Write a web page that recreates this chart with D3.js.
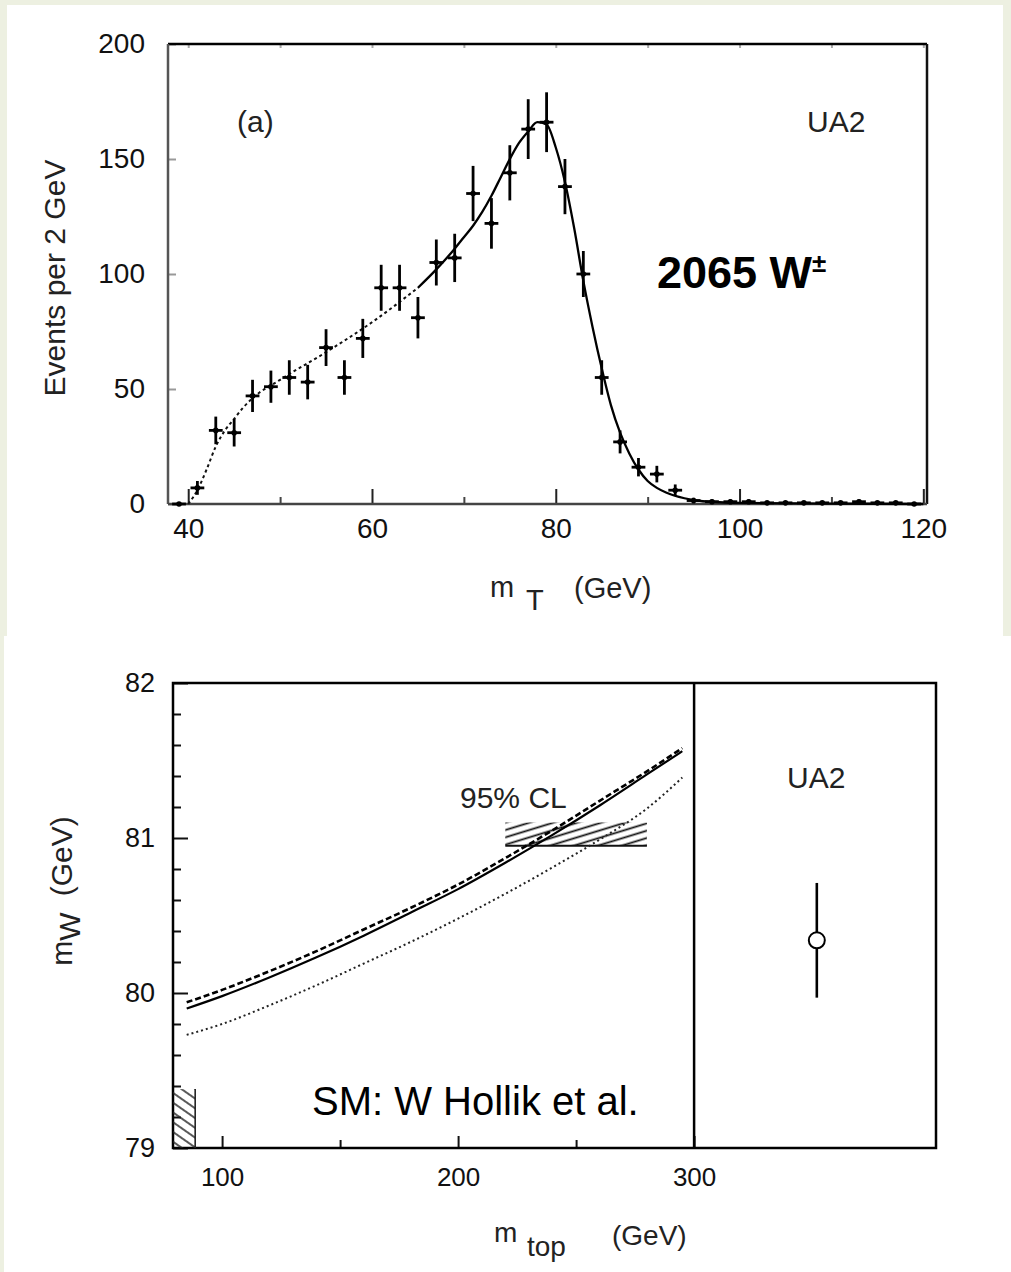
<!DOCTYPE html>
<html>
<head>
<meta charset="utf-8">
<script src="https://cdn.jsdelivr.net/npm/d3@7"></script>
<style>
body { margin: 0; background: #edf0e1; }
svg { display: block; font-family: "Liberation Sans", Arial, sans-serif; }
.tick text { fill: #111; }
</style>
</head>
<body>
<svg id="chart" width="1011" height="1272"></svg>
<script>
// ---- top panel: transverse mass spectrum ----
var mtBins = [39,41,43,45,47,49,51,53,55,57,59,61,63,65,67,69,71,73,75,77,79,81,83,85,87,89,91,93,95,97,99,101,103,105,107,109,111,113,115,117,119];
var events = [0,7,32,31,47,51,55,53,68,55,72,94,94,81,105,107,135,122,144,163,166,138,100,55,27,16,13,6,1.5,1,1,1,0.5,0.5,0.5,0.5,0.5,1,0.5,0.5,0];
var eventErr = [0,3,6,6,7,7,7.5,7.5,8,7.5,8.5,10,10,9,10,10.5,12,11,12,13,13,12,10,7.5,5,4,3.6,2.5,1.2,1,1,1,0.7,0.7,0.7,0.7,0.7,1,0.7,0.7,0];
var fitX = [40,41,42,43,44,45,46,47,50,55,60,65,67,69,70,71,72,73,74,75,76,77,78,79,80,81,82,83,84,85,86,87,88,89,90,91,92,94,96,100,110,120];
var fitY = [0,6,15,25,32,37,42,46,54,66,79,94,102,111,116,121,127,134,142,150,157,162,166,165,155,140,120,97,77,59,43,31,22,15,10,7,5,2.5,1.2,0.5,0.2,0];
var mtTicks = [40,60,80,100,120];
var mtMinor = [50,70,90,110];
var evTicks = [0,50,100,150,200];

// ---- bottom panel: mW vs mtop ----
var mtopGrid = [85,100,120,140,160,180,200,220,240,260,280,295];
var mwSolid  = [79.90,79.98,80.10,80.23,80.37,80.52,80.67,80.84,81.02,81.21,81.41,81.56];
var mwDashed = [79.94,80.02,80.14,80.27,80.41,80.55,80.70,80.87,81.05,81.24,81.43,81.58];
var mwDotted = [79.73,79.80,79.92,80.05,80.19,80.33,80.48,80.64,80.81,80.99,81.19,81.39];
var clBand = {mtop: [220, 280], mw: [80.95, 81.10]};
var lepBand = {mtop: [79.2, 88.6], mw: [79.0, 79.38]};
var ua2Point = {mtop: 352, mw: 80.34, err: 0.37};
var mtopTicks = [100,200,300];
var mtopMinor = [150,250];
var mwTicks = [79,80,81,82];
var mwMinor = [79.2,79.4,79.6,79.8,80.2,80.4,80.6,80.8,81.2,81.4,81.6,81.8];

var svg = d3.select("#chart");

// paper panels
svg.append("rect").attr("x", 7).attr("y", 5).attr("width", 996).attr("height", 631).attr("fill", "#fff");
svg.append("rect").attr("x", 4).attr("y", 636).attr("width", 1007).attr("height", 636).attr("fill", "#fff");

// ================= TOP =================
var x1 = d3.scaleLinear().domain([37.8, 120.4]).range([168, 927]);
var y1 = d3.scaleLinear().domain([0, 200]).range([504, 44]);

var topG = svg.append("g");

topG.append("g")
    .attr("transform", "translate(0,504)")
    .call(d3.axisBottom(x1).tickValues(mtTicks).tickSize(-15).tickPadding(14))
    .call(g => g.select(".domain").remove())
    .call(g => g.selectAll("line").attr("stroke", "#222").attr("stroke-width", 2))
    .call(g => g.selectAll("text").attr("font-size", 28).attr("font-family", "Liberation Sans, Arial"));
topG.append("g")
    .attr("transform", "translate(0,504)")
    .call(d3.axisBottom(x1).tickValues(mtMinor).tickSize(-7).tickFormat(""))
    .call(g => g.select(".domain").remove())
    .call(g => g.selectAll("line").attr("stroke", "#444").attr("stroke-width", 2));
topG.append("g")
    .attr("transform", "translate(0,44)")
    .call(d3.axisTop(x1).tickValues(mtTicks.concat(mtMinor)).tickSize(-4).tickFormat(""))
    .call(g => g.select(".domain").remove())
    .call(g => g.selectAll("line").attr("stroke", "#aaa").attr("stroke-width", 2));
topG.append("g")
    .attr("transform", "translate(168,0)")
    .call(d3.axisLeft(y1).tickValues(evTicks).tickSize(-8).tickPadding(23))
    .call(g => g.select(".domain").remove())
    .call(g => g.selectAll("line").attr("stroke", "#999").attr("stroke-width", 2))
    .call(g => g.selectAll("text").attr("font-size", 28).attr("font-family", "Liberation Sans, Arial"));

// frame
topG.append("line").attr("x1", 168).attr("x2", 927).attr("y1", 44).attr("y2", 44).attr("stroke", "#000").attr("stroke-width", 2.5);
topG.append("line").attr("x1", 927).attr("x2", 927).attr("y1", 44).attr("y2", 504).attr("stroke", "#111").attr("stroke-width", 2.5);
topG.append("line").attr("x1", 168).attr("x2", 168).attr("y1", 44).attr("y2", 504).attr("stroke", "#555").attr("stroke-width", 2.5);
topG.append("line").attr("x1", 168).attr("x2", 927).attr("y1", 504).attr("y2", 504).attr("stroke", "#444").attr("stroke-width", 2.5);

// fit curve: dotted below 65 GeV, solid above
var fitPts = fitX.map((v, i) => [v, fitY[i]]);
var fitLine = d3.line().x(d => x1(d[0])).y(d => y1(d[1])).curve(d3.curveMonotoneX);
topG.append("path")
    .attr("d", fitLine(fitPts.filter(d => d[0] <= 65)))
    .attr("fill", "none").attr("stroke", "#111").attr("stroke-width", 2).attr("stroke-dasharray", "3,3");
topG.append("path")
    .attr("d", fitLine(fitPts.filter(d => d[0] >= 65)))
    .attr("fill", "none").attr("stroke", "#000").attr("stroke-width", 2.3);

// data points with error bars
var pts = topG.append("g").selectAll("g").data(mtBins.map((m, i) => ({m: m, v: events[i], e: eventErr[i]}))).enter().append("g");
pts.append("line")
    .attr("x1", d => x1(d.m)).attr("x2", d => x1(d.m))
    .attr("y1", d => y1(d.v + d.e)).attr("y2", d => y1(Math.max(0, d.v - d.e)))
    .attr("stroke", "#000").attr("stroke-width", 2.8);
pts.append("line")
    .attr("x1", d => x1(d.m - 0.75)).attr("x2", d => x1(d.m + 0.75))
    .attr("y1", d => y1(d.v)).attr("y2", d => y1(d.v))
    .attr("stroke", "#000").attr("stroke-width", 2.8);
pts.append("circle")
    .attr("cx", d => x1(d.m)).attr("cy", d => y1(d.v)).attr("r", 2.8).attr("fill", "#000");

// labels
topG.append("text").attr("x", 237).attr("y", 132).attr("font-size", 30).attr("fill", "#222").text("(a)");
topG.append("text").attr("x", 807).attr("y", 132).attr("font-size", 30).attr("fill", "#222").text("UA2");
var big = topG.append("text").attr("x", 657).attr("y", 288).attr("font-size", 45).attr("font-weight", "bold").attr("fill", "#000");
big.append("tspan").text("2065 W");
big.append("tspan").attr("font-size", 26).attr("dy", -16).text("\u00b1");
topG.append("text")
    .attr("transform", "translate(65,278) rotate(-90)")
    .attr("text-anchor", "middle").attr("font-size", 30).attr("fill", "#222")
    .text("Events per 2 GeV");
topG.append("text").attr("x", 490).attr("y", 597).attr("font-size", 29).attr("fill", "#222").text("m");
topG.append("text").attr("x", 526).attr("y", 610).attr("font-size", 29).attr("fill", "#222").text("T");
topG.append("text").attr("x", 574).attr("y", 598).attr("font-size", 29).attr("fill", "#222").text("(GeV)");

// ================= BOTTOM =================
var x2 = d3.scaleLinear().domain([79.2, 402.5]).range([173, 936]);
var y2 = d3.scaleLinear().domain([79, 82]).range([1148, 683]);

var botG = svg.append("g");

var defs = svg.append("defs");
defs.append("pattern")
    .attr("id", "hatchCL").attr("patternUnits", "userSpaceOnUse")
    .attr("width", 14).attr("height", 7).attr("patternTransform", "rotate(-17)")
    .append("line").attr("x1", 0).attr("x2", 14).attr("y1", 3.5).attr("y2", 3.5)
    .attr("stroke", "#111").attr("stroke-width", 1.8);
defs.append("pattern")
    .attr("id", "hatchLEP").attr("patternUnits", "userSpaceOnUse")
    .attr("width", 9).attr("height", 8).attr("patternTransform", "rotate(35)")
    .append("line").attr("x1", 0).attr("x2", 9).attr("y1", 4).attr("y2", 4)
    .attr("stroke", "#222").attr("stroke-width", 1.5);

botG.append("g")
    .attr("transform", "translate(0,1148)")
    .call(d3.axisBottom(x2).tickValues(mtopTicks).tickSize(-12).tickPadding(20))
    .call(g => g.select(".domain").remove())
    .call(g => g.selectAll("line").attr("stroke", "#111").attr("stroke-width", 2))
    .call(g => g.selectAll("text").attr("font-size", 26).attr("font-family", "Liberation Sans, Arial"));
botG.append("g")
    .attr("transform", "translate(0,1148)")
    .call(d3.axisBottom(x2).tickValues(mtopMinor).tickSize(-8).tickFormat(""))
    .call(g => g.select(".domain").remove())
    .call(g => g.selectAll("line").attr("stroke", "#111").attr("stroke-width", 2));
botG.append("g")
    .attr("transform", "translate(173,0)")
    .call(d3.axisLeft(y2).tickValues(mwTicks).tickFormat(d3.format("d")).tickSize(-15).tickPadding(18))
    .call(g => g.select(".domain").remove())
    .call(g => g.selectAll("line").attr("stroke", "#111").attr("stroke-width", 2))
    .call(g => g.selectAll("text").attr("font-size", 27).attr("font-family", "Liberation Sans, Arial"));
botG.append("g")
    .attr("transform", "translate(173,0)")
    .call(d3.axisLeft(y2).tickValues(mwMinor).tickSize(-8).tickFormat(""))
    .call(g => g.select(".domain").remove())
    .call(g => g.selectAll("line").attr("stroke", "#111").attr("stroke-width", 2));

// frame and divider at mtop = 300
botG.append("rect").attr("x", 173).attr("y", 683).attr("width", 763).attr("height", 465)
    .attr("fill", "none").attr("stroke", "#000").attr("stroke-width", 2.5);
botG.append("line").attr("x1", x2(300)).attr("x2", x2(300)).attr("y1", 683).attr("y2", 1148)
    .attr("stroke", "#000").attr("stroke-width", 2.5);

// excluded region (bottom left)
botG.append("rect")
    .attr("x", x2(lepBand.mtop[0])).attr("y", y2(lepBand.mw[1]))
    .attr("width", x2(lepBand.mtop[1]) - x2(lepBand.mtop[0]))
    .attr("height", y2(lepBand.mw[0]) - y2(lepBand.mw[1]))
    .attr("fill", "url(#hatchLEP)");
botG.append("line")
    .attr("x1", x2(lepBand.mtop[1])).attr("x2", x2(lepBand.mtop[1]))
    .attr("y1", y2(lepBand.mw[1])).attr("y2", y2(lepBand.mw[0]))
    .attr("stroke", "#222").attr("stroke-width", 1.6);

// 95% CL band
botG.append("rect")
    .attr("x", x2(clBand.mtop[0])).attr("y", y2(clBand.mw[1]))
    .attr("width", x2(clBand.mtop[1]) - x2(clBand.mtop[0]))
    .attr("height", y2(clBand.mw[0]) - y2(clBand.mw[1]))
    .attr("fill", "url(#hatchCL)");
botG.append("line")
    .attr("x1", x2(clBand.mtop[0])).attr("x2", x2(clBand.mtop[1]))
    .attr("y1", y2(clBand.mw[0])).attr("y2", y2(clBand.mw[0]))
    .attr("stroke", "#111").attr("stroke-width", 2);
botG.append("text").attr("x", 460).attr("y", 808).attr("font-size", 30).attr("fill", "#222").text("95% CL");

// SM curves
var smLine = d3.line().x(d => x2(d[0])).y(d => y2(d[1])).curve(d3.curveMonotoneX);
function curve(vals) { return mtopGrid.map((m, i) => [m, vals[i]]); }
botG.append("path").attr("d", smLine(curve(mwDotted)))
    .attr("fill", "none").attr("stroke", "#222").attr("stroke-width", 2).attr("stroke-dasharray", "2,3");
botG.append("path").attr("d", smLine(curve(mwSolid)))
    .attr("fill", "none").attr("stroke", "#000").attr("stroke-width", 2.2);
botG.append("path").attr("d", smLine(curve(mwDashed)))
    .attr("fill", "none").attr("stroke", "#000").attr("stroke-width", 2.6).attr("stroke-dasharray", "6,3");

// UA2 measurement
botG.append("text").attr("x", 787).attr("y", 788).attr("font-size", 30).attr("fill", "#222").text("UA2");
botG.append("line")
    .attr("x1", x2(ua2Point.mtop)).attr("x2", x2(ua2Point.mtop))
    .attr("y1", y2(ua2Point.mw + ua2Point.err)).attr("y2", y2(ua2Point.mw - ua2Point.err))
    .attr("stroke", "#000").attr("stroke-width", 2.6);
botG.append("circle")
    .attr("cx", x2(ua2Point.mtop)).attr("cy", y2(ua2Point.mw)).attr("r", 8)
    .attr("fill", "#fff").attr("stroke", "#000").attr("stroke-width", 2);

// annotations and axis titles
botG.append("text").attr("x", 312).attr("y", 1115).attr("font-size", 40).attr("fill", "#000").text("SM: W Hollik et al.");
var ylab = botG.append("text")
    .attr("transform", "translate(72,891) rotate(-90)")
    .attr("text-anchor", "middle").attr("font-size", 30).attr("fill", "#222");
ylab.append("tspan").text("m");
ylab.append("tspan").attr("dy", 8).text("W");
ylab.append("tspan").attr("dy", -8).attr("dx", 16).text("(GeV)");
botG.append("text").attr("x", 494).attr("y", 1242).attr("font-size", 28).attr("fill", "#222").text("m");
botG.append("text").attr("x", 527).attr("y", 1256).attr("font-size", 28).attr("fill", "#222").text("top");
botG.append("text").attr("x", 612).attr("y", 1245).attr("font-size", 28).attr("fill", "#222").text("(GeV)");
</script>
</body>
</html>
